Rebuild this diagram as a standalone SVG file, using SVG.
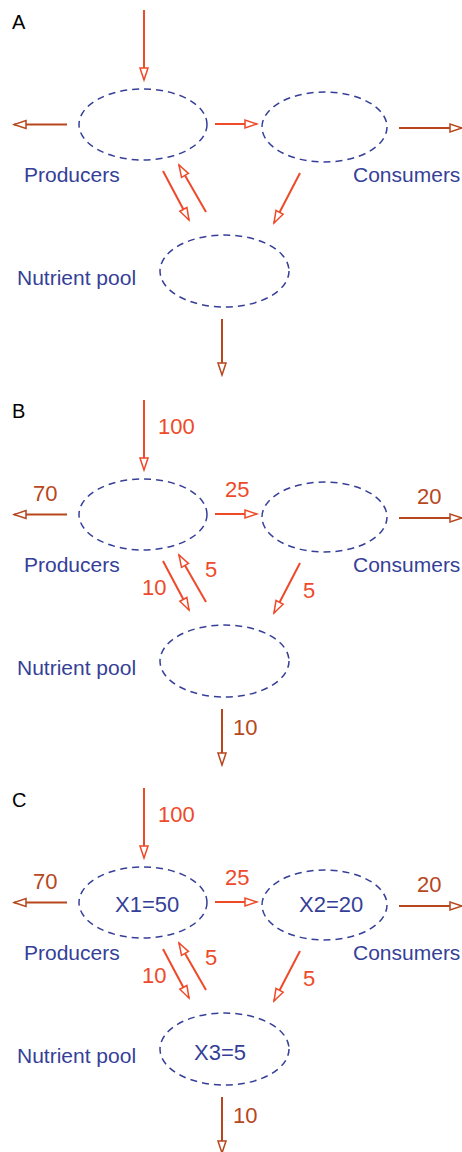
<svg xmlns="http://www.w3.org/2000/svg" width="462" height="1152" viewBox="0 0 462 1152">
<style>
.node{fill:none;stroke:#363f98;stroke-width:1.5;stroke-dasharray:7,5}
.lbl{font-family:"Liberation Sans",Arial,sans-serif;font-size:21px;fill:#363f98}
.x{font-family:"Liberation Sans",Arial,sans-serif;font-size:22px;fill:#363f98}
.pl{font-family:"Liberation Sans",Arial,sans-serif;font-size:20px;fill:#000}
.nr{font-family:"Liberation Sans",Arial,sans-serif;font-size:22px;fill:#ee4a2a}
.nb{font-family:"Liberation Sans",Arial,sans-serif;font-size:22px;fill:#b7471d}
.r{stroke:#ee4a2a;stroke-width:2;fill:none;marker-end:url(#ar)}
.b{stroke:#b7471d;stroke-width:2;fill:none;marker-end:url(#ab)}
</style>
<defs>
<marker id="ar" markerUnits="userSpaceOnUse" viewBox="-15 -7 17 14" refX="0" refY="0" markerWidth="17" markerHeight="14" orient="auto">
<path d="M0,0 L-12,-4 L-12,4 Z" fill="#fff" stroke="#ee4a2a" stroke-width="1.5"/>
</marker>
<marker id="ab" markerUnits="userSpaceOnUse" viewBox="-15 -7 17 14" refX="0" refY="0" markerWidth="17" markerHeight="14" orient="auto">
<path d="M0,0 L-12,-4 L-12,4 Z" fill="#fff" stroke="#b7471d" stroke-width="1.5"/>
</marker>
</defs>

<!-- Panel A -->
<g id="panelA">
<text class="pl" x="12" y="29">A</text>
<g id="A-producers"><ellipse class="node" cx="143" cy="124.5" rx="64" ry="35.5"/><text class="lbl" x="24" y="182">Producers</text></g>
<g id="A-consumers"><ellipse class="node" cx="324.5" cy="127" rx="62.5" ry="35"/><text class="lbl" x="353" y="182">Consumers</text></g>
<g id="A-pool"><ellipse class="node" cx="224.5" cy="271" rx="64.5" ry="36"/><text class="lbl" x="17" y="285">Nutrient pool</text></g>
<g id="A-connectors">
<line class="r" x1="144" y1="10" x2="144" y2="80"/>
<line class="b" x1="67" y1="124.5" x2="14" y2="124.5"/>
<line class="r" x1="215" y1="124" x2="257" y2="124"/>
<line class="b" x1="399" y1="128" x2="462" y2="128"/>
<line class="r" x1="163" y1="171" x2="189" y2="220"/>
<line class="r" x1="206" y1="212" x2="179" y2="165"/>
<line class="r" x1="300" y1="173" x2="274" y2="223"/>
<line class="b" x1="222" y1="319" x2="222" y2="375"/>
</g>
</g>

<!-- Panel B -->
<g id="panelB" transform="translate(0,390)">
<text class="pl" x="12" y="28">B</text>
<g id="B-producers"><ellipse class="node" cx="143" cy="124.5" rx="64" ry="35.5"/><text class="lbl" x="24" y="182">Producers</text></g>
<g id="B-consumers"><ellipse class="node" cx="324.5" cy="127" rx="62.5" ry="35"/><text class="lbl" x="353" y="182">Consumers</text></g>
<g id="B-pool"><ellipse class="node" cx="224.5" cy="271" rx="64.5" ry="36"/><text class="lbl" x="17" y="285">Nutrient pool</text></g>
<g id="B-connectors">
<line class="r" x1="144" y1="10" x2="144" y2="80"/>
<line class="b" x1="67" y1="124.5" x2="14" y2="124.5"/>
<line class="r" x1="215" y1="124" x2="257" y2="124"/>
<line class="b" x1="399" y1="128" x2="462" y2="128"/>
<line class="r" x1="163" y1="171" x2="189" y2="220"/>
<line class="r" x1="206" y1="212" x2="179" y2="165"/>
<line class="r" x1="300" y1="173" x2="274" y2="223"/>
<line class="b" x1="222" y1="319" x2="222" y2="375"/>
<text class="nr" x="158" y="44">100</text>
<text class="nb" x="33" y="111">70</text>
<text class="nr" x="225" y="107">25</text>
<text class="nb" x="417" y="114">20</text>
<text class="nr" x="142" y="205">10</text>
<text class="nr" x="205" y="187">5</text>
<text class="nr" x="303" y="208">5</text>
<text class="nb" x="233" y="345">10</text>
</g>
</g>

<!-- Panel C -->
<g id="panelC" transform="translate(0,778)">
<text class="pl" x="12" y="29">C</text>
<g id="C-producers"><ellipse class="node" cx="143" cy="124.5" rx="64" ry="35.5"/><text class="x" x="115" y="134">X1=50</text><text class="lbl" x="24" y="182">Producers</text></g>
<g id="C-consumers"><ellipse class="node" cx="324.5" cy="127" rx="62.5" ry="35"/><text class="x" x="299" y="134">X2=20</text><text class="lbl" x="353" y="182">Consumers</text></g>
<g id="C-pool"><ellipse class="node" cx="224.5" cy="271" rx="64.5" ry="36"/><text class="x" x="194" y="282">X3=5</text><text class="lbl" x="17" y="285">Nutrient pool</text></g>
<g id="C-connectors">
<line class="r" x1="144" y1="10" x2="144" y2="80"/>
<line class="b" x1="67" y1="124.5" x2="14" y2="124.5"/>
<line class="r" x1="215" y1="124" x2="257" y2="124"/>
<line class="b" x1="399" y1="128" x2="462" y2="128"/>
<line class="r" x1="163" y1="171" x2="189" y2="220"/>
<line class="r" x1="206" y1="212" x2="179" y2="165"/>
<line class="r" x1="300" y1="173" x2="274" y2="223"/>
<line class="b" x1="222" y1="319" x2="222" y2="375"/>
<text class="nr" x="158" y="44">100</text>
<text class="nb" x="33" y="111">70</text>
<text class="nr" x="225" y="107">25</text>
<text class="nb" x="417" y="114">20</text>
<text class="nr" x="142" y="205">10</text>
<text class="nr" x="205" y="187">5</text>
<text class="nr" x="303" y="208">5</text>
<text class="nb" x="233" y="345">10</text>
</g>
</g>
</svg>
